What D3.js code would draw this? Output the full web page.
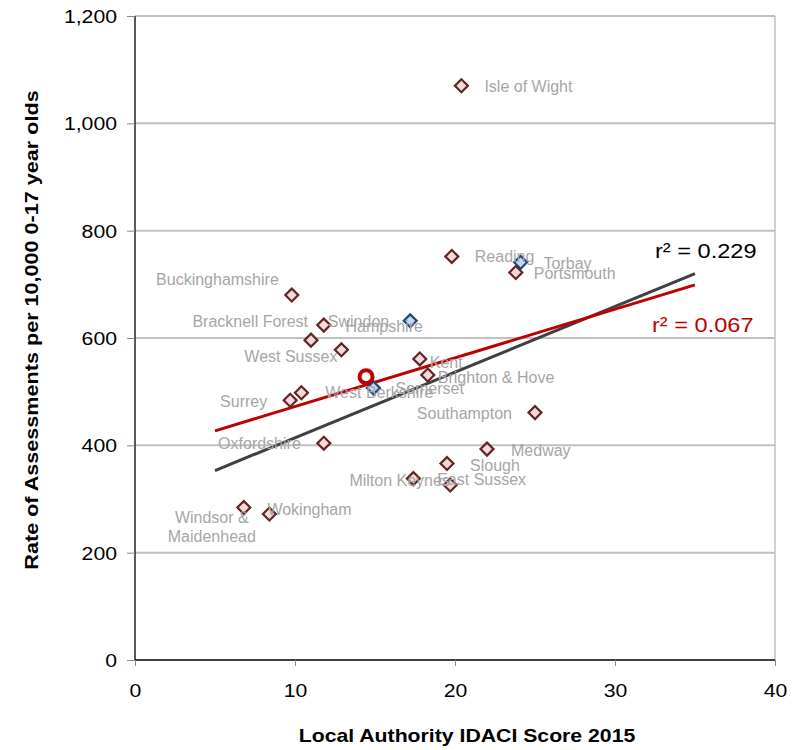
<!DOCTYPE html>
<html>
<head>
<meta charset="utf-8">
<script src="https://cdn.jsdelivr.net/npm/d3@7"></script>
<style>
  html, body { margin: 0; padding: 0; background: #fff; }
  svg { display: block; font-family: "Liberation Sans", Arial, sans-serif; }
</style>
</head>
<body>
<svg id="chart" width="800" height="750"></svg>
<script>
// ---- data ----
const authorities = ["Isle of Wight","Reading","Torbay","Portsmouth","Buckinghamshire","Swindon","Hampshire",
  "Bracknell Forest","West Sussex","Kent","Brighton & Hove","West Berkshire","Somerset","Surrey","Southampton",
  "Oxfordshire","Medway","Slough","Milton Keynes","East Sussex","Windsor &\nMaidenhead","Wokingham"];
const idaciScore = [20.4,19.8,24.1,23.8,9.8,11.8,17.2,11.0,12.9,17.8,18.3,14.9,10.4,9.7,25.0,11.8,22.0,19.5,17.4,19.7,6.8,8.4];
const assessmentRate = [1070,752,741,722,680,624,632,596,578,561,531,507,498,484,461,404,393,366,338,326,284,272];
const highlighted = [0,0,1,0,0,0,1,0,0,0,0,1,0,0,0,0,0,0,0,0,0,0];
const meanPoint = [14.44, 528];
const trendX = [5, 35];
const trendAll = [353, 720];
const trendHighlight = [427, 699];
const r2Labels = ["r² = 0.229", "r² = 0.067"];
const xTicks = [0,10,20,30,40];
const yTicks = [0,200,400,600,800,1000,1200];
const xTitle = "Local Authority IDACI Score 2015";
const yTitle = "Rate of Assessments  per 10,000 0-17 year olds";

// ---- layout (label offsets in px relative to marker) ----
const labelLayout = [
  [23,1,"start"],[23,0,"start"],[23,1,"start"],[18,1,"start"],[-13,-16,"end"],[4,-4,"start"],[-26,6,"middle"],
  [-3,-19,"end"],[-4,7,"end"],[10,4,"start"],[10,2,"start"],[6,5,"middle"],[94,-4,"start"],[-23,1,"end"],[-23,1,"end"],
  [-23,0,"end"],[24,1,"start"],[23,2,"start"],[-64,2,"start"],[-13,-6,"start"],[-32,10,"middle"],[-2,-5,"start"]
];

const svg = d3.select("#chart");
const L = 135, R = 775, T = 16, B = 660;
const x = d3.scaleLinear().domain([0,40]).range([L,R]);
const y = d3.scaleLinear().domain([0,1200]).range([B,T]);
const stretch = 1.18;

// gridlines
svg.append("g").selectAll("line").data(yTicks.filter(d => d > 0)).join("line")
  .attr("x1", L).attr("x2", R).attr("y1", d => y(d)).attr("y2", d => y(d))
  .attr("stroke", "#c0c0c0").attr("stroke-width", 2);
// right border
svg.append("line").attr("x1", R).attr("x2", R).attr("y1", T).attr("y2", B)
  .attr("stroke", "#c0c0c0").attr("stroke-width", 1.5);

// axes
const yAxis = svg.append("g").attr("transform", `translate(${L},0)`)
  .call(d3.axisLeft(y).tickValues(yTicks).tickSize(8).tickFormat(d3.format(",")));
const xAxis = svg.append("g").attr("transform", `translate(0,${B})`)
  .call(d3.axisBottom(x).tickValues(xTicks).tickSize(6));
[yAxis, xAxis].forEach(a => {
  a.select(".domain").attr("stroke", "#000").attr("stroke-width", 1.3);
  a.selectAll(".tick line").attr("stroke", "#888").attr("stroke-width", 1);
  a.selectAll(".tick text").attr("font-size", 18).attr("fill", "#000")
    .attr("font-family", "Liberation Sans, Arial, sans-serif");
});
yAxis.select(".domain").attr("d", `M0,${T}V${B}`);
xAxis.select(".domain").attr("d", `M${L},0H${R}`);
yAxis.selectAll(".tick text").attr("x", 0).attr("dy", null).attr("y", 0)
  .attr("transform", `translate(-18,6.5) scale(${stretch},1)`);
xAxis.selectAll(".tick text").attr("y", 0).attr("dy", null)
  .attr("transform", `translate(0,37) scale(${stretch},1)`);

// trend lines
const line = d3.line().x(d => x(d[0])).y(d => y(d[1]));
svg.append("path").datum(trendX.map((v,i) => [v, trendAll[i]])).attr("d", line)
  .attr("stroke", "#404040").attr("stroke-width", 3).attr("fill", "none");
svg.append("path").datum(trendX.map((v,i) => [v, trendHighlight[i]])).attr("d", line)
  .attr("stroke", "#c00000").attr("stroke-width", 3).attr("fill", "none");

// points
const pts = authorities.map((n,i) => ({name:n, x:idaciScore[i], y:assessmentRate[i], hi:highlighted[i], lay:labelLayout[i]}));
const sym = d3.symbol().type(d3.symbolSquare).size(84);
svg.append("g").selectAll("path").data(pts).join("path")
  .attr("d", sym)
  .attr("transform", d => `translate(${x(d.x)},${y(d.y)}) rotate(45)`)
  .attr("fill", d => d.hi ? "#c6d9f1" : "#f2dcdb")
  .attr("stroke", d => d.hi ? "#1f497d" : "#632523")
  .attr("stroke-width", 2.2);

// mean marker
svg.append("circle").attr("cx", x(meanPoint[0])).attr("cy", y(meanPoint[1])).attr("r", 6.5)
  .attr("fill", "#fff").attr("stroke", "#c00000").attr("stroke-width", 4);

// labels
const lbl = svg.append("g").attr("font-size", 16).attr("fill", "#a6a6a6");
pts.forEach(d => {
  const lines = d.name.split("\n");
  const t = lbl.append("text")
    .attr("text-anchor", d.lay[2])
    .attr("x", x(d.x) + d.lay[0]).attr("y", y(d.y) + d.lay[1] + 5.5);
  lines.forEach((s, k) => {
    t.append("tspan").attr("x", x(d.x) + d.lay[0]).attr("dy", k === 0 ? 0 : 18.7).text(s);
  });
});

// r² labels
svg.append("text").attr("transform", `translate(655,258) scale(1.15,1)`)
  .attr("font-size", 20.5).attr("fill", "#000").text(r2Labels[0]);
svg.append("text").attr("transform", `translate(652,332) scale(1.15,1)`)
  .attr("font-size", 20.5).attr("fill", "#c00000").text(r2Labels[1]);

// axis titles
svg.append("text").attr("transform", `translate(467,742) scale(${stretch},1)`)
  .attr("text-anchor", "middle").attr("font-size", 18).attr("font-weight", "bold").text(xTitle);
svg.append("text").attr("transform", `translate(38,330) rotate(-90) scale(1.2,1)`)
  .attr("text-anchor", "middle").attr("font-size", 18).attr("font-weight", "bold").text(yTitle);
</script>
</body>
</html>
